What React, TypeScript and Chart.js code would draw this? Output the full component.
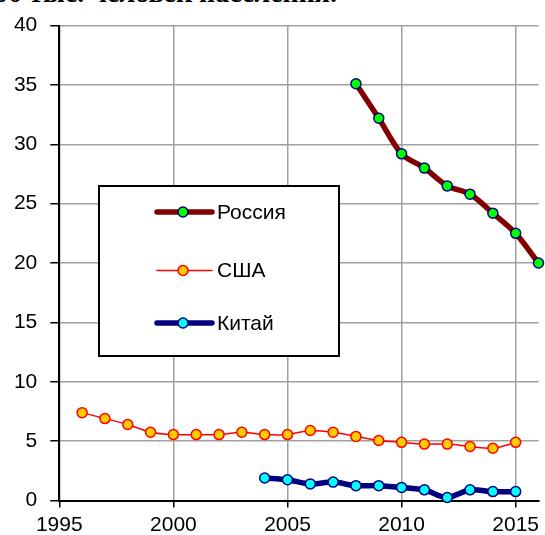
import React, { useEffect, useRef } from "react";
import { Chart, registerables } from "chart.js";

Chart.register(...registerables);

const russiaYears = [2008, 2009, 2010, 2011, 2012, 2013, 2014, 2015, 2016];
const russiaValues = [35.1, 32.2, 29.2, 28.0, 26.5, 25.8, 24.2, 22.5, 20.0];

const usaYears = [1996, 1997, 1998, 1999, 2000, 2001, 2002, 2003, 2004, 2005, 2006, 2007, 2008, 2009, 2010, 2011, 2012, 2013, 2014, 2015];
const usaValues = [7.4, 6.9, 6.4, 5.75, 5.55, 5.55, 5.55, 5.75, 5.55, 5.55, 5.9, 5.75, 5.4, 5.05, 4.9, 4.75, 4.75, 4.55, 4.4, 4.9];

const chinaYears = [2004, 2005, 2006, 2007, 2008, 2009, 2010, 2011, 2012, 2013, 2014, 2015];
const chinaValues = [1.9, 1.75, 1.4, 1.55, 1.25, 1.25, 1.1, 0.9, 0.25, 0.9, 0.75, 0.75];

const xTicks = [1995, 2000, 2005, 2010, 2015];
const seriesNames = ["Россия", "США", "Китай"];
const titleText = "100 тыс. человек населения.";

const FONT = "'Liberation Sans', Arial, sans-serif";

const toPoints = (xs: number[], ys: number[]) => xs.map((x, i) => ({ x, y: ys[i] }));

const legendPlugin = {
  id: "boxLegend",
  afterDraw(chart: any) {
    const ctx = chart.ctx;
    const ds = chart.data.datasets;
    ctx.save();
    const bx = 99, by = 186, bw = 240, bh = 170;
    ctx.fillStyle = "#ffffff";
    ctx.fillRect(bx, by, bw, bh);
    ctx.strokeStyle = "#000000";
    ctx.lineWidth = 2;
    ctx.strokeRect(bx, by, bw, bh);
    const rows = [212, 270.5, 323];
    ds.forEach((d: any, i: number) => {
      const y = rows[i];
      ctx.strokeStyle = d.borderColor;
      ctx.lineWidth = d.borderWidth;
      ctx.lineCap = "round";
      ctx.beginPath();
      ctx.moveTo(157, y);
      ctx.lineTo(212, y);
      ctx.stroke();
      ctx.beginPath();
      ctx.arc(183, y, 5, 0, Math.PI * 2);
      ctx.fillStyle = d.pointBackgroundColor;
      ctx.fill();
      ctx.lineWidth = d.pointBorderWidth;
      ctx.strokeStyle = d.pointBorderColor;
      ctx.stroke();
      ctx.fillStyle = "#000";
      ctx.font = `21px ${FONT}`;
      ctx.textBaseline = "middle";
      ctx.textAlign = "left";
      ctx.fillText(seriesNames[i], 217, y + 1);
    });
    ctx.restore();
  },
};

export default function App() {
  const ref = useRef<HTMLCanvasElement | null>(null);

  useEffect(() => {
    if (!ref.current) return;
    const chart = new Chart(ref.current, {
      type: "line",
      data: {
        datasets: [
          {
            label: seriesNames[0],
            data: toPoints(russiaYears, russiaValues),
            borderColor: "#800000",
            borderWidth: 5.5,
            pointRadius: 5,
            pointBackgroundColor: "#00ff00",
            pointBorderColor: "#000080",
            pointBorderWidth: 1.5,
            tension: 0.3,
            clip: false as any,
          },
          {
            label: seriesNames[1],
            data: toPoints(usaYears, usaValues),
            borderColor: "#ff0000",
            borderWidth: 1.5,
            pointRadius: 5,
            pointBackgroundColor: "#ffcc00",
            pointBorderColor: "#ff0000",
            pointBorderWidth: 1.5,
            tension: 0.3,
            clip: false as any,
          },
          {
            label: seriesNames[2],
            data: toPoints(chinaYears, chinaValues),
            borderColor: "#000080",
            borderWidth: 5.5,
            pointRadius: 5,
            pointBackgroundColor: "#00ffff",
            pointBorderColor: "#000080",
            pointBorderWidth: 1.5,
            tension: 0.3,
            clip: false as any,
          },
        ],
      },
      options: {
        responsive: false,
        animation: false,
        layout: { padding: { top: 22, right: 2.6, left: 0, bottom: 0 } },
        plugins: { legend: { display: false }, tooltip: { enabled: false } },
        scales: {
          x: {
            type: "linear",
            min: 1995,
            max: 2016,
            afterBuildTicks: (scale: any) => {
              scale.ticks = xTicks.map((v) => ({ value: v }));
            },
            afterFit: (scale: any) => {
              scale.height = 34.5;
            },
            grid: { color: "#a0a0a0", lineWidth: 1.5, tickColor: "#000", tickLength: 7 },
            border: { color: "#000", width: 2 },
            ticks: {
              color: "#000",
              font: { family: FONT, size: 21 },
              padding: 5,
              maxRotation: 0,
              autoSkip: false,
              callback: (v: any) => String(v),
            },
          },
          y: {
            min: 0,
            max: 40,
            afterFit: (scale: any) => {
              scale.width = 59.3;
            },
            grid: { color: "#a0a0a0", lineWidth: 1.5, tickColor: "#000", tickLength: 9 },
            border: { color: "#000", width: 2 },
            ticks: {
              stepSize: 5,
              color: "#000",
              font: { family: FONT, size: 21 },
              padding: 13,
            },
          },
        },
      },
      plugins: [legendPlugin],
    });
    return () => chart.destroy();
  }, []);

  return (
    <div style={{ position: "fixed", left: 0, top: 0, width: 545, height: 535, overflow: "hidden", background: "#fff" }}>
      <div
        style={{
          position: "absolute",
          right: 208,
          top: -21,
          whiteSpace: "nowrap",
          fontFamily: "'Liberation Serif', 'Times New Roman', serif",
          fontWeight: "bold",
          fontSize: 28,
          lineHeight: 1,
          color: "#000",
        }}
      >
        {titleText}
      </div>
      <canvas ref={ref} width={545} height={535} style={{ position: "absolute", left: 0, top: 0 }} />
    </div>
  );
}
